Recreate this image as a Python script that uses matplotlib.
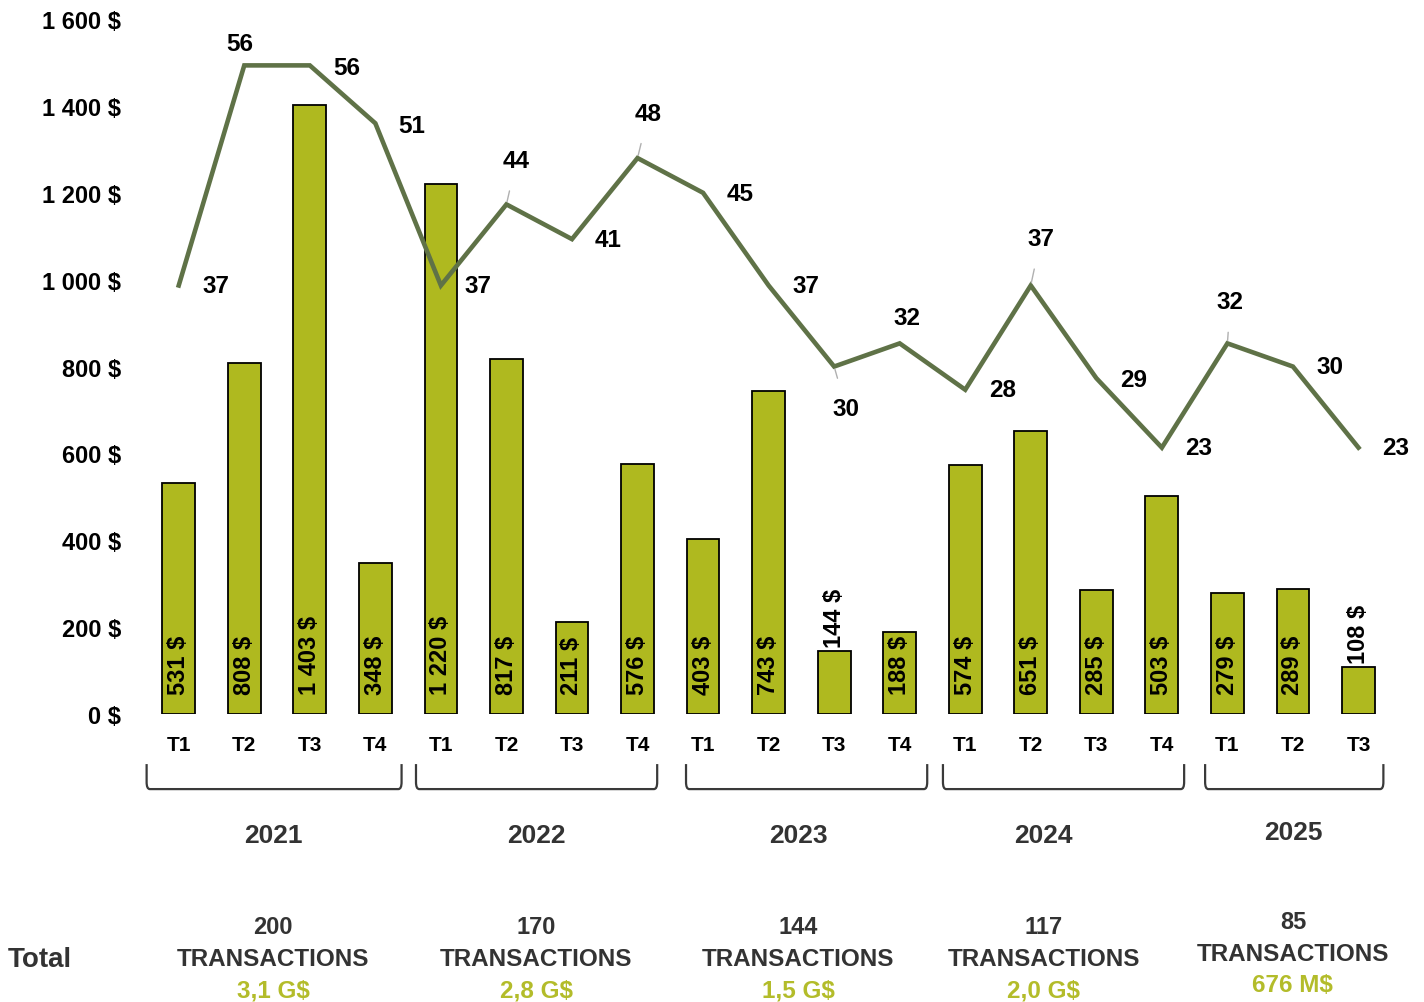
import numpy as np
import matplotlib.pyplot as plt
from matplotlib.path import Path
from matplotlib.patches import PathPatch
import matplotlib.transforms as mtransforms

plt.rcParams['font.family'] = ['Liberation Sans', 'DejaVu Sans']

quarters = ["T1", "T2", "T3", "T4",
            "T1", "T2", "T3", "T4",
            "T1", "T2", "T3", "T4",
            "T1", "T2", "T3", "T4",
            "T1", "T2", "T3"]
years = ["2021", "2022", "2023", "2024", "2025"]
quarters_per_year = [4, 4, 4, 4, 3]
amounts = [531, 808, 1403, 348, 1220, 817, 211, 576, 403, 743, 144, 188,
           574, 651, 285, 503, 279, 289, 108]
transactions = [37, 56, 56, 51, 37, 44, 41, 48, 45, 37, 30, 32,
                28, 37, 29, 23, 32, 30, 23]
year_counts = [200, 170, 144, 117, 85]
year_values = ["3,1 G$", "2,8 G$", "1,5 G$", "2,0 G$", "676 M$"]

BAR = "#AFB91F"
LINE = "#5F7247"
DARK = "#333333"

# label offsets (pixels) for the transaction line; True = leader line
lbl_off = [(37, 0), (-5, 22), (37, -2), (36, -2), (37, 0), (10, 44), (36, 0),
           (11, 45), (37, -1), (37, 0), (12, -42), (7, 26), (37, 0), (10, 47),
           (37, -1), (37, 0), (3, 42), (37, 0), (37, 0)]
leader = [False, False, False, False, False, True, False, True, False, False,
          True, False, False, True, False, False, True, False, False]
# bracket extents (data units) and small nudges of the year/total labels (px)
brackets = [(-0.49, 3.40), (3.62, 7.30), (7.74, 11.42), (11.66, 15.34), (15.66, 18.38)]
label_dx = [-4, -3, -3, -20, 0]
label_dy = [0, 0, 0, 0, -5]


def fmt_money(v):
    return f"{v:,.0f} $".replace(",", " ")


fig = plt.figure(figsize=(14.24, 10.03), dpi=100)
ax = fig.add_axes([0.1025, 0.2871, 0.8745, 0.6929])
x = np.arange(len(amounts))

ax.bar(x, amounts, width=0.5, color=BAR, edgecolor="black", linewidth=1.3, zorder=2)
ax.set_xlim(-0.5, len(amounts) - 0.5)
ax.set_ylim(0, 1600)
ax.set_yticks(np.arange(0, 1601, 200))
ax.set_yticklabels([fmt_money(v) for v in np.arange(0, 1601, 200)],
                   fontsize=17, fontweight="bold")
ax.set_xticks(x)
ax.set_xticklabels(quarters, fontsize=15, fontweight="bold")
ax.tick_params(axis="y", length=0, pad=18)
ax.tick_params(axis="x", length=0, pad=15)
for s in ax.spines.values():
    s.set_visible(False)

# bar value labels
for xi, v in zip(x, amounts):
    if v > 170:
        ax.annotate(fmt_money(v), (xi, 0), xytext=(0, 20), textcoords="offset pixels",
                    rotation=90, ha="center", va="bottom", fontsize=17,
                    fontweight="bold", zorder=4)
    else:
        ax.annotate(fmt_money(v), (xi, v), xytext=(0, 4), textcoords="offset pixels",
                    rotation=90, ha="center", va="bottom", fontsize=17,
                    fontweight="bold", zorder=4)

# transactions line on hidden secondary axis
ax2 = ax.twinx()
ax2.set_ylim(0, 60)
ax2.axis("off")
ax2.plot(x, transactions, color=LINE, linewidth=3.3, solid_joinstyle="miter", zorder=3)
for xi, t, (dx, dy), ld in zip(x, transactions, lbl_off, leader):
    ap = None
    if ld:
        ap = dict(arrowstyle="-", color="#B0B0B0", lw=1, shrinkA=12, shrinkB=2)
    ax2.annotate(str(t), (xi, t), xytext=(dx, dy), textcoords="offset pixels",
                 ha="center", va="center", fontsize=17.5, fontweight="bold",
                 arrowprops=ap)

# year brackets and labels
trans = mtransforms.blended_transform_factory(ax.transData, ax.transAxes)
to_fig = fig.transFigure.inverted()
start = 0
for i, (yr, n, (x0, x1)) in enumerate(zip(years, quarters_per_year, brackets)):
    y0, y1 = -0.072, -0.108
    c = 0.05
    verts = [(x0, y0), (x0, y1 + 0.01), (x0, y1), (x0 + c, y1),
             (x1 - c, y1), (x1, y1), (x1, y1 + 0.01), (x1, y0)]
    codes = [Path.MOVETO, Path.LINETO, Path.CURVE3, Path.CURVE3,
             Path.LINETO, Path.CURVE3, Path.CURVE3, Path.LINETO]
    ax.add_patch(PathPatch(Path(verts, codes), fill=False, edgecolor="#3A3A3A",
                           linewidth=1.6, transform=trans, clip_on=False))
    cx = start + (n - 1) / 2
    px = ax.transData.transform((cx, 0))[0] + label_dx[i]
    xf = to_fig.transform((px, 0))[0]
    fig.text(xf, 1 - (836 + label_dy[i] / 2) / 1003, yr, ha="center", va="center",
             fontsize=19, fontweight="bold", color=DARK)
    fig.text(xf, 1 - (928 + label_dy[i]) / 1003, str(year_counts[i]), ha="center",
             va="center", fontsize=17, fontweight="bold", color=DARK)
    fig.text(xf, 1 - (960 + label_dy[i]) / 1003, "TRANSACTIONS", ha="center",
             va="center", fontsize=17.5, fontweight="bold", color=DARK)
    fig.text(xf, 1 - (991 + label_dy[i]) / 1003, year_values[i], ha="center",
             va="center", fontsize=17.5, fontweight="bold", color="#B3BC2A")
    start += n

fig.text(8 / 1424, 1 - 960 / 1003, "Total", ha="left", va="center",
         fontsize=20, fontweight="bold", color=DARK)

plt.savefig("out.png", dpi=100)
